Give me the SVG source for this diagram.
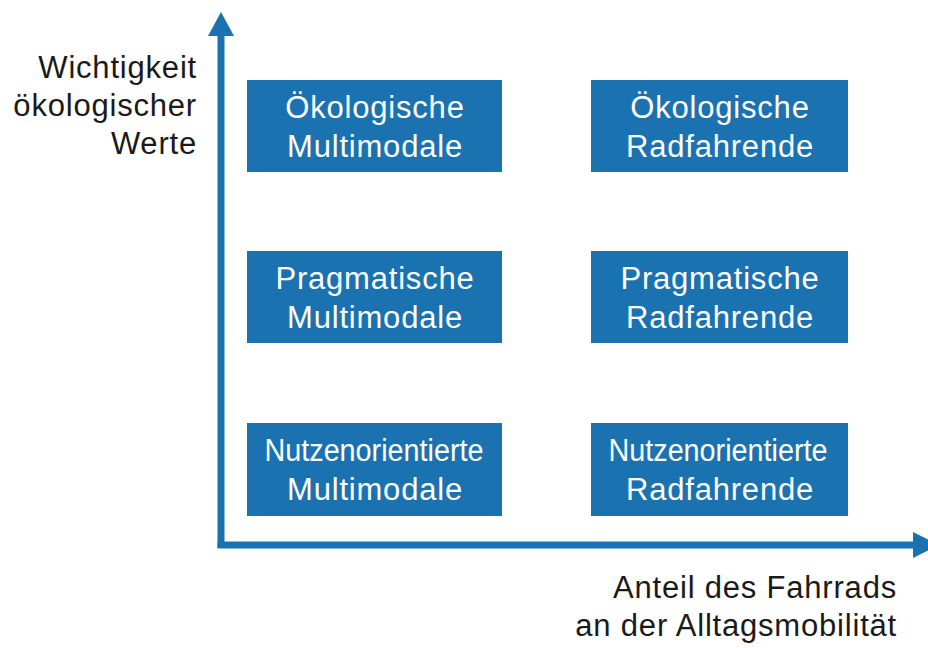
<svg xmlns="http://www.w3.org/2000/svg" width="928" height="648" viewBox="0 0 928 648">
<style>
.box{fill:#1b72b0}
.bt{font-family:"Liberation Sans",Arial,sans-serif;font-size:31px;fill:#ffffff;text-anchor:middle;letter-spacing:0.8px}
.lab{font-family:"Liberation Sans",Arial,sans-serif;font-size:31px;fill:#1a1a1a;text-anchor:end;letter-spacing:0.8px}
.ax{fill:#1b72b0}
</style>
<rect width="928" height="648" fill="#ffffff"/>
<g id="axes">
<rect class="ax" x="217.5" y="34" width="7" height="514"/>
<polygon class="ax" points="221,12 234,36 208,36"/>
<rect class="ax" x="217.5" y="541.5" width="698" height="7"/>
<polygon class="ax" points="913,532 939,545 913,558"/>
</g>
<g id="label-y">
<text class="lab" x="197" y="78">Wichtigkeit</text>
<text class="lab" x="197" y="116">ökologischer</text>
<text class="lab" x="197" y="154">Werte</text>
</g>
<g id="label-x">
<text class="lab" x="897" y="598">Anteil des Fahrrads</text>
<text class="lab" x="897" y="636">an der Alltagsmobilität</text>
</g>
<g id="oeko-multi">
<rect class="box" x="247" y="80" width="255" height="92"/>
<text class="bt" x="375" y="118">Ökologische</text>
<text class="bt" x="375" y="157">Multimodale</text>
</g>
<g id="oeko-rad">
<rect class="box" x="591" y="80" width="257" height="92"/>
<text class="bt" x="720" y="118">Ökologische</text>
<text class="bt" x="720" y="157">Radfahrende</text>
</g>
<g id="prag-multi">
<rect class="box" x="247" y="251" width="255" height="92"/>
<text class="bt" x="375" y="289">Pragmatische</text>
<text class="bt" x="375" y="328">Multimodale</text>
</g>
<g id="prag-rad">
<rect class="box" x="591" y="251" width="257" height="92"/>
<text class="bt" x="720" y="289">Pragmatische</text>
<text class="bt" x="720" y="328">Radfahrende</text>
</g>
<g id="nutz-multi">
<rect class="box" x="247" y="423" width="255" height="93"/>
<text class="bt" x="374" y="461" textLength="219" lengthAdjust="spacingAndGlyphs" style="letter-spacing:0">Nutzenorientierte</text>
<text class="bt" x="375" y="500">Multimodale</text>
</g>
<g id="nutz-rad">
<rect class="box" x="591" y="423" width="257" height="93"/>
<text class="bt" x="718" y="461" textLength="219" lengthAdjust="spacingAndGlyphs" style="letter-spacing:0">Nutzenorientierte</text>
<text class="bt" x="720" y="500">Radfahrende</text>
</g>
</svg>
